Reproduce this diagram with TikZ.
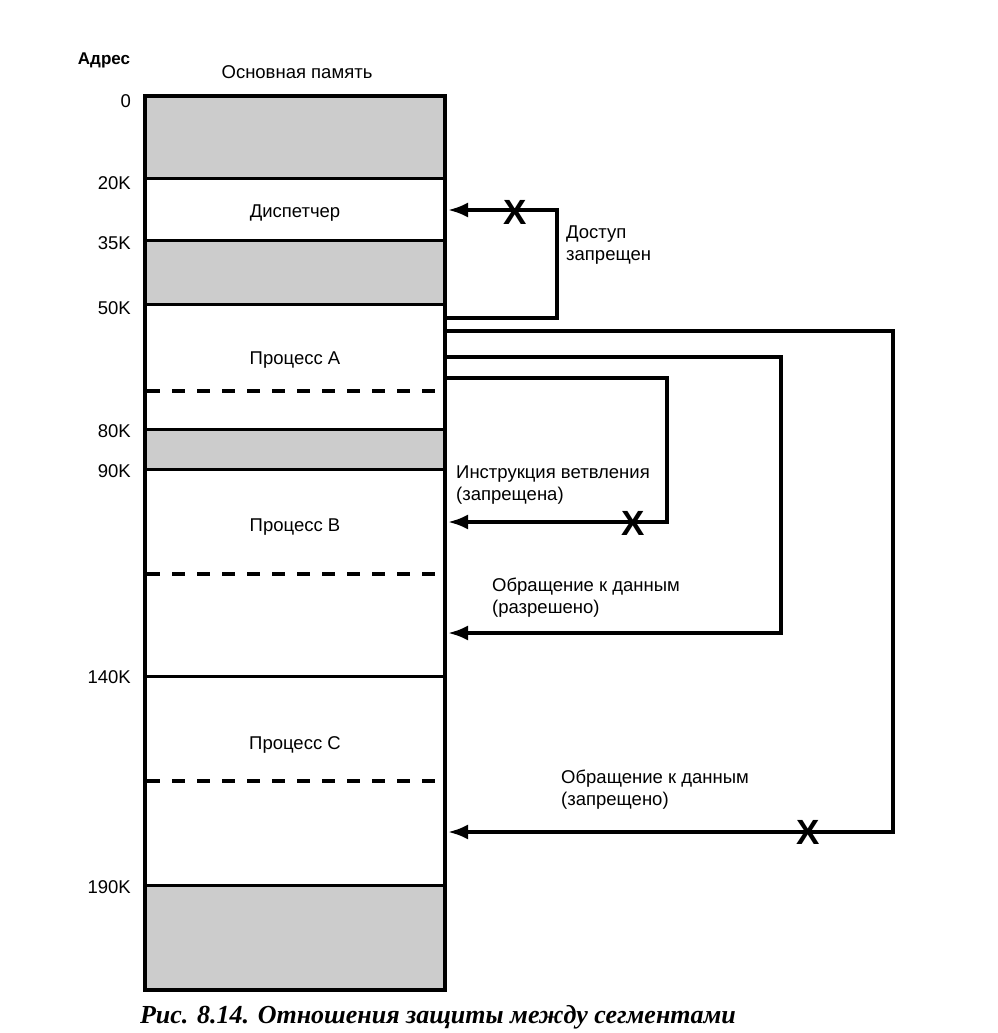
\documentclass[tikz,border=0pt]{standalone}
\usepackage{fontspec}
\setmainfont{Liberation Sans}
\newfontfamily\capfont{Liberation Serif}
\usetikzlibrary{arrows.meta}

\begin{document}
\begin{tikzpicture}[x=1pt, y=-1pt,
  wall/.style={line width=4pt},
  seam/.style={line width=3pt},
  cutline/.style={line width=3.5pt, dash pattern=on 13pt off 12pt},
  freearea/.style={fill=black!20},
  link/.style={line width=3.5pt, -{Latex[length=20pt, width=15pt]}},
  txt/.style={font=\fontsize{18.5}{22}\selectfont, inner sep=0pt},
  note/.style={txt, anchor=west, align=left},
  addr/.style={txt, anchor=east},
  deny/.style={font=\bfseries\fontsize{35}{35}\selectfont, inner sep=0pt}]
\useasboundingbox (0,0) rectangle (998,1033);
\fill[freearea] (145,96) rectangle (445,178);
\fill[freearea] (145,240) rectangle (445,304);
\fill[freearea] (145,429) rectangle (445,469);
\fill[freearea] (145,885) rectangle (445,990);
\foreach \y in {178,240,304,429,469,676,885}
  \draw[seam] (145,\y) -- (445,\y);
\foreach \y in {391,574,781}
  \draw[cutline] (147,\y) -- (440,\y);
\draw[wall] (145,96) rectangle (445,990);
\node[font=\bfseries\fontsize{17}{17}\selectfont, inner sep=0pt] (addrhead) at (104,60) {Адрес};
\node[txt] (memhead) at (297,72) {Основная память};
\foreach \v/\y in {0/101,20K/183,35K/243,50K/308,80K/431,90K/471,140K/677,190K/887}
  \node[addr] (a\v) at (131,\y) {\v};
\node[txt] (disp) at (295,213) {Диспетчер};
\node[txt] (procA) at (295,360) {Процесс A};
\node[txt] (procB) at (295,527) {Процесс B};
\node[txt] (procC) at (295,745) {Процесс C};
\coordinate (dispOut) at (445,318);
\coordinate (dispBend) at (557,318);
\coordinate (dispIn) at (448,210);
\coordinate (dataCOut) at (445,331);
\coordinate (dataCBend) at (893,331);
\coordinate (dataCIn) at (448,832);
\coordinate (dataBOut) at (445,357);
\coordinate (dataBBend) at (781,357);
\coordinate (dataBIn) at (448,633);
\coordinate (jumpOut) at (445,378);
\coordinate (jumpBend) at (667,378);
\coordinate (jumpIn) at (448,522);
\draw[link] (dispOut) -- (dispBend) |- (dispIn);
\draw[link] (dataCOut) -- (dataCBend) |- (dataCIn);
\draw[link] (dataBOut) -- (dataBBend) |- (dataBIn);
\draw[link] (jumpOut) -- (jumpBend) |- (jumpIn);
\node[deny] (xdisp) at (515,212) {X};
\node[deny] (xjump) at (633,523) {X};
\node[deny] (xdataC) at (808,832) {X};
\node[note] (ndisp) at (566,245) {Доступ\\запрещен};
\node[note] (njump) at (456,485) {Инструкция ветвления\\(запрещена)};
\node[note] (ndataB) at (492,598) {Обращение к данным\\(разрешено)};
\node[note] (ndataC) at (561,790) {Обращение к данным\\(запрещено)};
\node[font=\capfont\bfseries\itshape\fontsize{26}{26}\selectfont, inner sep=0pt] (caption) at (438,1017) {Рис. 8.14. Отношения защиты между сегментами};
\end{tikzpicture}
\end{document}
